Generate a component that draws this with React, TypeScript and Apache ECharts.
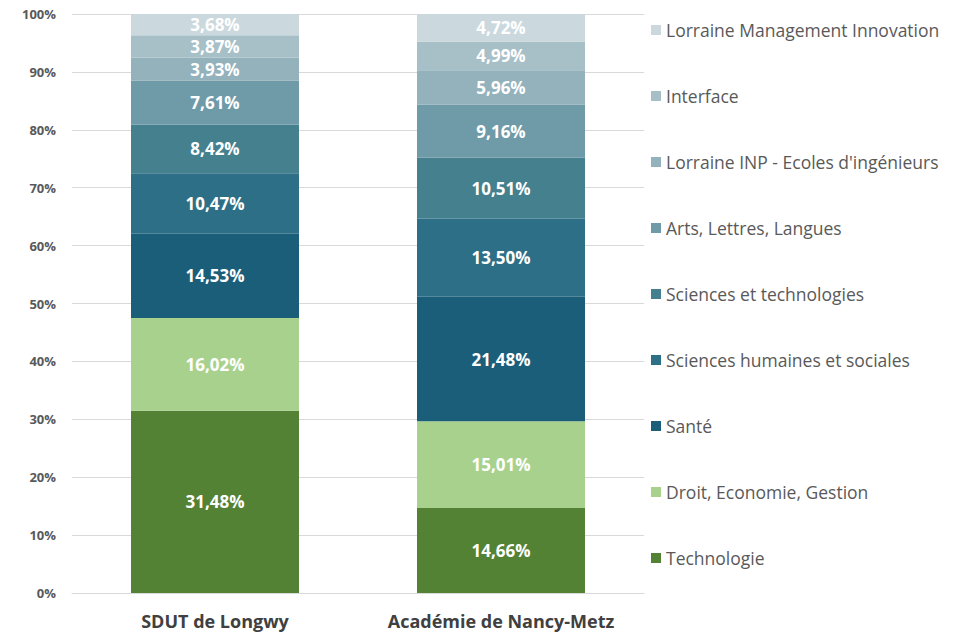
import React, { useEffect, useRef } from "react";
import * as echarts from "echarts";

const categories = ["SDUT de Longwy", "Académie de Nancy-Metz"];

const seriesNames = [
  "Technologie",
  "Droit, Economie, Gestion",
  "Santé",
  "Sciences humaines et sociales",
  "Sciences et technologies",
  "Arts, Lettres, Langues",
  "Lorraine INP - Ecoles d'ingénieurs",
  "Interface",
  "Lorraine Management Innovation",
];

const technologie = [31.48, 14.66];
const droit = [16.02, 15.01];
const sante = [14.53, 21.48];
const shs = [10.47, 13.5];
const sciencesTech = [8.42, 10.51];
const arts = [7.61, 9.16];
const inp = [3.93, 5.96];
const interfaceVals = [3.87, 4.99];
const lmi = [3.68, 4.72];

const seriesValues = [technologie, droit, sante, shs, sciencesTech, arts, inp, interfaceVals, lmi];

const colors = [
  "#548235",
  "#a9d18e",
  "#1b5e7a",
  "#2e6f88",
  "#45808f",
  "#6f9ba8",
  "#93b2bc",
  "#a7c0c8",
  "#cbd9de",
];

const yTicks = [0, 10, 20, 30, 40, 50, 60, 70, 80, 90, 100];

const FONT = "'Open Sans', 'DejaVu Sans', sans-serif";

export default function App() {
  const ref = useRef<HTMLDivElement>(null);
  useEffect(() => {
    document.body.style.margin = "0";
    const chart = echarts.init(ref.current!, null, { renderer: "svg" });
    chart.setOption({
      animation: false,
      backgroundColor: "#ffffff",
      textStyle: { fontFamily: FONT },
      grid: { left: 72, right: 322, top: 14, bottom: 40, containLabel: false },
      legend: {
        orient: "vertical",
        left: 651,
        top: 19,
        padding: 0,
        icon: "rect",
        itemWidth: 10,
        itemHeight: 10,
        itemGap: 44,
        data: [...seriesNames].reverse(),
        textStyle: { color: "#595959", fontSize: 17.5, lineHeight: 22, fontFamily: FONT },
      },
      xAxis: {
        type: "category",
        data: categories,
        axisTick: { show: false },
        axisLine: { show: true, lineStyle: { color: "#d9d9d9" } },
        axisLabel: {
          interval: 0,
          color: "#404040",
          fontSize: 18,
          fontWeight: "bold",
          margin: 19,
          fontFamily: FONT,
        },
      },
      yAxis: {
        type: "value",
        min: yTicks[0],
        max: yTicks[yTicks.length - 1],
        interval: 10,
        axisLine: { show: false },
        axisTick: { show: false },
        splitLine: { lineStyle: { color: "#d9d9d9" } },
        axisLabel: {
          formatter: "{value}%",
          color: "#595959",
          fontSize: 13,
          fontWeight: "bold",
          margin: 16,
          fontFamily: FONT,
        },
      },
      series: seriesNames.map((name, i) => ({
        name,
        type: "bar",
        stack: "total",
        barWidth: 168,
        data: seriesValues[i],
        itemStyle: { color: colors[i] },
        label: {
          show: true,
          position: "inside",
          color: "#ffffff",
          fontSize: 17,
          fontWeight: "bold",
          fontFamily: FONT,
          formatter: (p: any) => p.value.toFixed(2).replace(".", ",") + "%",
        },
      })),
    });
    return () => chart.dispose();
  }, []);
  return <div ref={ref} style={{ width: 966, height: 633 }} />;
}
